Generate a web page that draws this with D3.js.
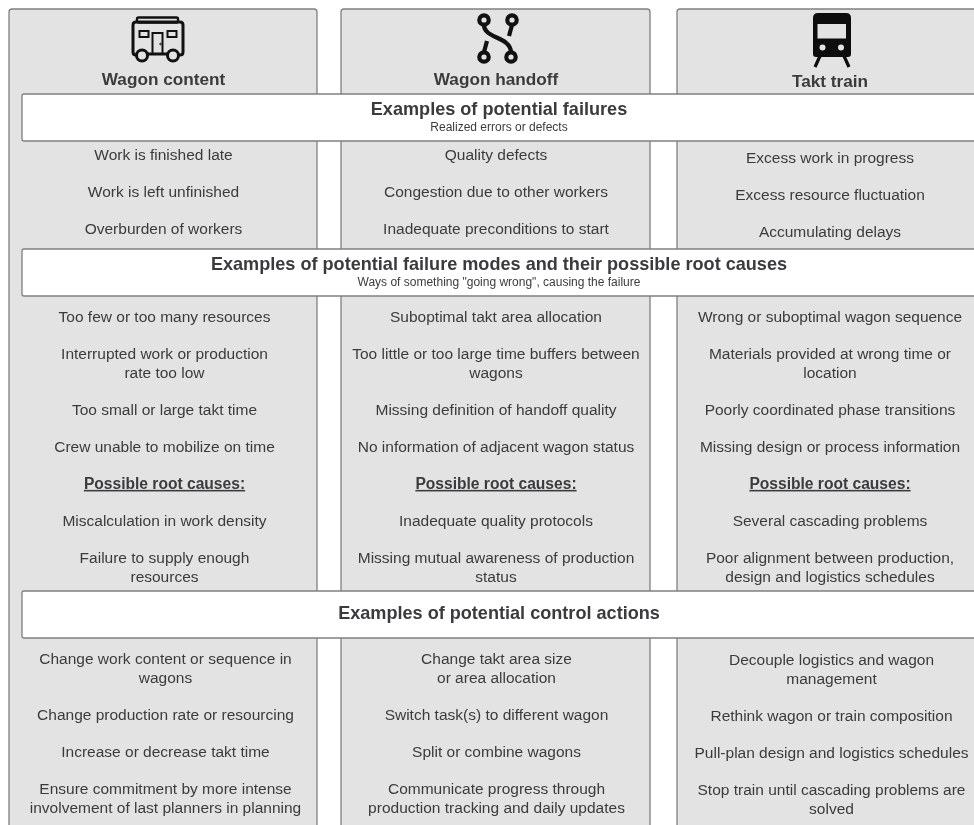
<!DOCTYPE html>
<html lang="en">
<head>
<meta charset="UTF-8">
<title>Takt control actions</title>
<script src="https://d3js.org/d3.v7.min.js"></script>
<style>
    html, body { margin: 0; padding: 0; background: #fff; overflow: hidden; }
    svg { display: block; filter: blur(0.35px); }
    text { font-family: "Liberation Sans", Arial, sans-serif; text-anchor: middle; }
</style>
</head>
<body>
<svg id="chart" width="974" height="825"></svg>
<script>
// column headers
var columns = ["Wagon content", "Wagon handoff", "Takt train"];

// white bands across the columns
var bandTitles = [
    "Examples of potential failures",
    "Examples of potential failure modes and their possible root causes",
    "Examples of potential control actions"
];
var bandSubtitles = [
    "Realized errors or defects",
    "Ways of something \"going wrong\", causing the failure",
    ""
];

// "\n" is a line break inside one item, "#" marks the underlined heading
var failures = [
    ["Work is finished late", "Work is left unfinished", "Overburden of workers"],
    ["Quality defects", "Congestion due to other workers", "Inadequate preconditions to start"],
    ["Excess work in progress", "Excess resource fluctuation", "Accumulating delays"]
];
var failureModes = [
    ["Too few or too many resources", "Interrupted work or production\nrate too low", "Too small or large takt time",
     "Crew unable to mobilize on time", "#Possible root causes:", "Miscalculation in work density",
     "Failure to supply enough\nresources"],
    ["Suboptimal takt area allocation", "Too little or too large time buffers between\nwagons", "Missing definition of handoff quality",
     "No information of adjacent wagon status", "#Possible root causes:", "Inadequate quality protocols",
     "Missing mutual awareness of production\nstatus"],
    ["Wrong or suboptimal wagon sequence", "Materials provided at wrong time or\nlocation", "Poorly coordinated phase transitions",
     "Missing design or process information", "#Possible root causes:", "Several cascading problems",
     "Poor alignment between production,\ndesign and logistics schedules"]
];
var controlActions = [
    ["Change work content or sequence in\nwagons", "Change production rate or resourcing", "Increase or decrease takt time",
     "Ensure commitment by more intense\ninvolvement of last planners in planning"],
    ["Change takt area size\nor area allocation", "Switch task(s) to different wagon", "Split or combine wagons",
     "Communicate progress through\nproduction tracking and daily updates"],
    ["Decouple logistics and wagon\nmanagement", "Rethink wagon or train composition", "Pull-plan design and logistics schedules",
     "Stop train until cascading problems are\nsolved"]
];

// layout
var panelX = [9, 341, 677],
    panelW = [308, 309, 320],
    textX = [163.5, 496, 830],
    titleY = [85, 85, 87],
    bandY = [94, 249, 591],
    bandH = 47,
    lineH = 19,
    itemGap = 18.1;

var svg = d3.select("#chart"),
    ink = "#3b3b3d",
    edge = "#808080";

var idx = d3.range(columns.length);

svg.selectAll("rect.panel").data(idx).join("rect")
    .attr("class", "panel")
    .attr("x", function (i) { return panelX[i]; })
    .attr("y", 9)
    .attr("width", function (i) { return panelW[i]; })
    .attr("height", 840)
    .attr("rx", 3)
    .attr("fill", "#e3e3e3")
    .attr("stroke", edge)
    .attr("stroke-width", 1.3);

svg.selectAll("text.head").data(columns).join("text")
    .attr("class", "head")
    .attr("x", function (d, i) { return textX[i]; })
    .attr("y", function (d, i) { return titleY[i]; })
    .attr("font-size", 17.2)
    .attr("font-weight", "bold")
    .attr("fill", ink)
    .text(function (d) { return d; });

// bands
svg.selectAll("rect.band").data(bandTitles).join("rect")
    .attr("class", "band")
    .attr("x", 22)
    .attr("y", function (d, i) { return bandY[i]; })
    .attr("width", 970)
    .attr("height", bandH)
    .attr("rx", 2)
    .attr("fill", "#fff")
    .attr("stroke", edge)
    .attr("stroke-width", 1.3);

svg.selectAll("text.bandTitle").data(bandTitles).join("text")
    .attr("class", "bandTitle")
    .attr("x", 499)
    .attr("y", function (d, i) { return bandY[i] + (bandSubtitles[i] ? 21 : 28); })
    .attr("font-size", 18.1)
    .attr("font-weight", "bold")
    .attr("fill", ink)
    .text(function (d) { return d; });

svg.selectAll("text.bandSub").data(bandSubtitles).join("text")
    .attr("class", "bandSub")
    .attr("x", 499)
    .attr("y", function (d, i) { return bandY[i] + 37; })
    .attr("font-size", 12)
    .attr("fill", ink)
    .text(function (d) { return d; });

// item text, flowed down from the first line of each block
function drawBlock(block, startY, shiftX) {
    block.forEach(function (items, c) {
        var y = startY[c];
        items.forEach(function (item) {
            var heading = item.charAt(0) == "#";
            var lines = item.replace("#", "").split("\n");
            lines.forEach(function (line) {
                svg.append("text")
                    .attr("x", textX[c] + shiftX[c])
                    .attr("y", y)
                    .attr("font-size", heading ? 15.6 : 15.5)
                    .attr("font-weight", heading ? "bold" : "normal")
                    .attr("text-decoration", heading ? "underline" : "none")
                    .attr("fill", ink)
                    .text(line);
                y += lineH;
            });
            y += itemGap;
        });
    });
}
drawBlock(failures, [159.5, 159.5, 162.5], [0, 0, 0]);
drawBlock(failureModes, [321.5, 321.5, 321.5], [1, 0, 0]);
drawBlock(controlActions, [663.5, 663.5, 664.5], [2, 0.5, 1.5]);

// icons
var wagon = svg.append("g").attr("fill", "none").attr("stroke", "#111").attr("stroke-width", 3);
wagon.append("rect").attr("x", 137).attr("y", 17.5).attr("width", 41).attr("height", 5).attr("rx", 1.5).attr("stroke-width", 2.4);
wagon.append("path").attr("d", "M137,55 H136 Q133,55 133,52 V25 Q133,22 136,22 H180 Q183,22 183,25 V52 Q183,55 180,55 H178 M148,54 H167");
wagon.append("rect").attr("x", 139.5).attr("y", 31).attr("width", 9).attr("height", 6).attr("stroke-width", 2);
wagon.append("rect").attr("x", 167.5).attr("y", 31).attr("width", 9).attr("height", 6).attr("stroke-width", 2);
wagon.append("rect").attr("x", 152.5).attr("y", 33).attr("width", 10).attr("height", 21).attr("stroke-width", 2);
wagon.append("circle").attr("cx", 142).attr("cy", 55.5).attr("r", 5.5);
wagon.append("circle").attr("cx", 173).attr("cy", 55.5).attr("r", 5.5);
wagon.append("circle").attr("cx", 160.5).attr("cy", 44).attr("r", 0.8).attr("stroke-width", 1);

var handoff = svg.append("g").attr("fill", "none").attr("stroke", "#111").attr("stroke-width", 4.2);
[[484, 20], [512, 20], [484, 57], [511, 57]].forEach(function (p) {
    handoff.append("circle").attr("cx", p[0]).attr("cy", p[1]).attr("r", 4.7);
});
handoff.append("path").attr("d", "M484,25 C484,39 510,36 511,52");
handoff.append("path").attr("d", "M512,25 L509,36");
handoff.append("path").attr("d", "M484,52 L487,41");

var train = svg.append("g");
train.append("path").attr("fill", "#0d0d0d")
    .attr("d", "M818,13 H846 Q851,13 851,18 V54 Q851,57 848,57 H816 Q813,57 813,54 V18 Q813,13 818,13 Z");
train.append("rect").attr("x", 817.5).attr("y", 24).attr("width", 28.5).attr("height", 14.5).attr("fill", "#e3e3e3");
train.append("circle").attr("cx", 822.5).attr("cy", 47.5).attr("r", 3).attr("fill", "#e3e3e3");
train.append("circle").attr("cx", 841).attr("cy", 47.5).attr("r", 3).attr("fill", "#e3e3e3");
train.append("path").attr("fill", "none").attr("stroke", "#0d0d0d").attr("stroke-width", 3.2)
    .attr("d", "M820,56 L815,67 M844,56 L849,67");
</script>
</body>
</html>
